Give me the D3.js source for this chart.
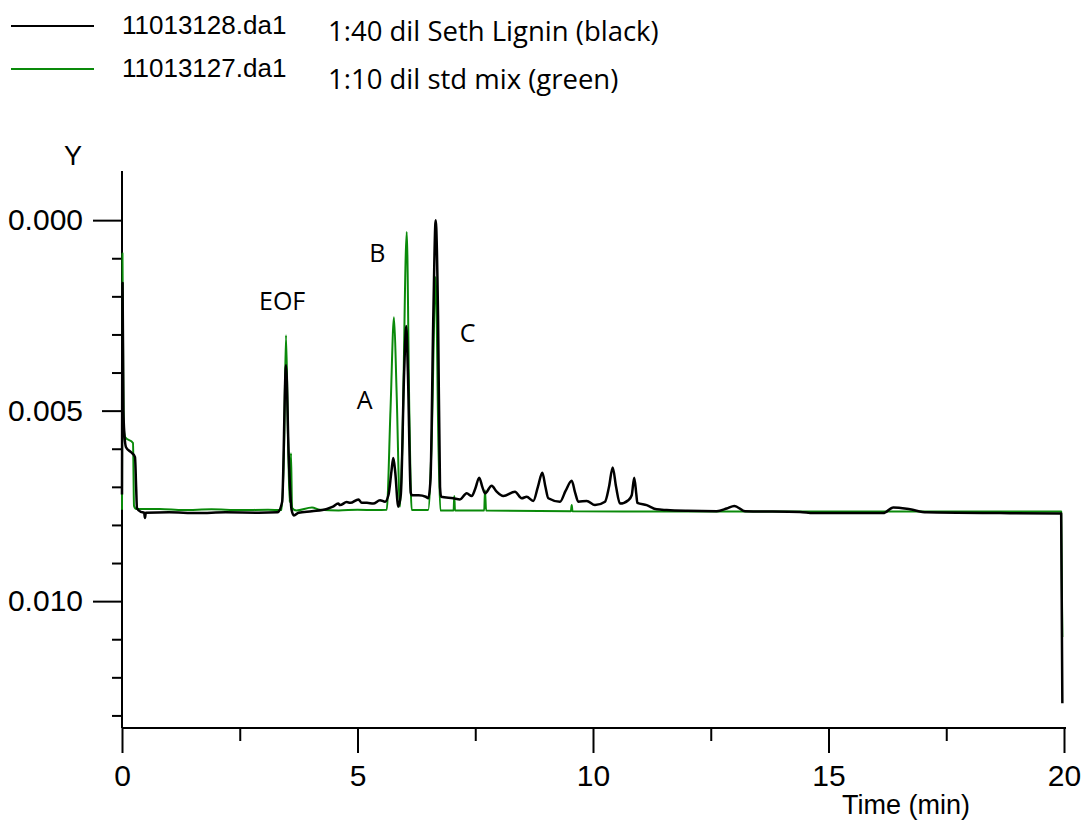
<!DOCTYPE html>
<html>
<head>
<meta charset="utf-8">
<script src="https://cdn.jsdelivr.net/npm/d3@7"></script>
<style>
  html, body { margin: 0; padding: 0; background: #fff; }
  svg { display: block; }
</style>
</head>
<body>
<svg id="chart" width="1081" height="825"></svg>
<script>
// Electropherogram: absorbance (Y, inverted) vs migration time (min)

// Run 11013128.da1 — 1:40 dil Seth Lignin (black)
const blackTime = [
  0.000, 0.012, 0.030, 0.050, 0.085, 0.200, 0.276, 0.300, 0.318, 0.400, 0.470, 0.488, 0.505,
  1.000, 1.600, 2.200, 2.900, 3.300, 3.400, 3.482, 3.540, 3.600, 3.650, 3.750,
  4.030, 4.350, 4.480, 4.590, 4.630, 4.770, 4.850, 5.020, 5.090, 5.200, 5.335, 5.478, 5.584,
  5.660, 5.720, 5.760, 5.800, 5.866, 5.920, 5.990, 6.035, 6.070, 6.130, 6.151,
  6.300, 6.450, 6.503, 6.550, 6.610, 6.660, 6.710, 6.752, 6.775,
  7.034, 7.176, 7.318, 7.425, 7.500, 7.584, 7.650, 7.707, 7.849, 7.950, 8.096,
  8.344, 8.486, 8.592, 8.732, 8.830, 8.924, 8.990, 9.051, 9.299, 9.420, 9.548, 9.620,
  9.688, 9.866, 10.042, 10.255, 10.340, 10.418, 10.490, 10.573, 10.749, 10.822, 10.875,
  10.920, 10.941, 11.140, 11.352, 11.565, 12.000, 12.626, 12.839, 13.000, 13.227,
  14.395, 14.677, 16.163, 16.376, 16.730, 17.085, 18.641, 19.940, 19.965
];
const blackAbs = [
  0.00720, 0.00165, 0.00500, 0.00560, 0.00596, 0.00610, 0.00622, 0.00700, 0.00756, 0.00766, 0.00768, 0.00782, 0.00768,
  0.00767, 0.00769, 0.00767, 0.00768, 0.00767, 0.00740, 0.00381, 0.00620, 0.00760, 0.00775, 0.00768,
  0.00764, 0.00758, 0.00752, 0.00744, 0.00748, 0.00740, 0.00742, 0.00733, 0.00742, 0.00742, 0.00744, 0.00735, 0.00739,
  0.00720, 0.00660, 0.00624, 0.00660, 0.00752, 0.00720, 0.00400, 0.00278, 0.00400, 0.00715, 0.00722,
  0.00722, 0.00726, 0.00730, 0.00680, 0.00250, 0.00000, 0.00250, 0.00700, 0.00726,
  0.00730, 0.00733, 0.00717, 0.00724, 0.00705, 0.00676, 0.00700, 0.00717, 0.00697, 0.00712, 0.00724,
  0.00713, 0.00730, 0.00726, 0.00737, 0.00700, 0.00663, 0.00700, 0.00730, 0.00739, 0.00710, 0.00684, 0.00715,
  0.00739, 0.00737, 0.00748, 0.00739, 0.00700, 0.00649, 0.00700, 0.00744, 0.00735, 0.00722, 0.00676,
  0.00720, 0.00742, 0.00748, 0.00759, 0.00761, 0.00763, 0.00764, 0.00757, 0.00750, 0.00764,
  0.00766, 0.00769, 0.00769, 0.00754, 0.00759, 0.00767, 0.00769, 0.00770, 0.01268
];

// Run 11013127.da1 — 1:10 dil std mix (green)
const greenTime = [
  0.000, 0.010, 0.025, 0.040, 0.070, 0.234, 0.255, 0.300,
  0.800, 1.300, 1.900, 2.500, 3.100, 3.390, 3.440, 3.482, 3.530, 3.560, 3.588, 3.610, 3.700,
  4.034, 4.200, 4.600, 5.000, 5.400, 5.620, 5.700, 5.775, 5.830, 5.902, 5.950, 6.045, 6.100, 6.151,
  6.500, 6.570, 6.660, 6.720, 6.760, 7.040, 7.055, 7.070, 7.690, 7.707, 7.730,
  9.530, 9.548, 9.565, 12.000, 15.000, 18.000, 19.940, 19.965
];
const greenAbs = [
  0.00760, 0.00087, 0.00400, 0.00551, 0.00570, 0.00585, 0.00750, 0.00758,
  0.00758, 0.00761, 0.00759, 0.00761, 0.00760, 0.00761, 0.00600, 0.00302, 0.00600, 0.00740, 0.00612, 0.00755, 0.00762,
  0.00754, 0.00760, 0.00762, 0.00760, 0.00761, 0.00760, 0.00500, 0.00255, 0.00450, 0.00752, 0.00600, 0.00031, 0.00500, 0.00761,
  0.00761, 0.00600, 0.00149, 0.00600, 0.00762, 0.00762, 0.00724, 0.00762, 0.00762, 0.00709, 0.00762,
  0.00764, 0.00748, 0.00764, 0.00765, 0.00765, 0.00765, 0.00765, 0.01094
];

const yMajorTicks = [0.000, 0.005, 0.010];
const yMinorTicks = [0.001, 0.002, 0.003, 0.004, 0.006, 0.007, 0.008, 0.009, 0.011, 0.012, 0.013];
const xMajorTicks = [0, 5, 10, 15, 20];
const xMinorTicks = [2.5, 7.5, 12.5, 17.5];

const legendFiles = ["11013128.da1", "11013127.da1"];
const legendNotes = ["1:40 dil Seth Lignin (black)", "1:10 dil std mix (green)"];
const peakLabels = [
  { name: "EOF", t: 3.40, v: 0.00235 },
  { name: "A",   t: 5.15, v: 0.00496 },
  { name: "B",   t: 5.42, v: 0.00110 },
  { name: "C",   t: 7.34, v: 0.00320 }
];

const BLACK = "#000000";
const GREEN = "#0a8a0a";

const svg = d3.select("#chart");
svg.append("rect").attr("width", 1081).attr("height", 825).attr("fill", "#fff");

const x = d3.scaleLinear().domain([0, 20]).range([122, 1064]);
const y = d3.scaleLinear().domain([-0.00129, 0.01333]).range([171, 728]);

const axisFont = "'Liberation Sans', Arial, sans-serif";
const noteFont = "'Open Sans', 'Noto Sans', sans-serif";

// Y axis (values increase downward)
const yMinor = svg.append("g").attr("transform", "translate(122,0)")
  .call(d3.axisLeft(y).tickValues(yMinorTicks).tickSize(10).tickFormat(""));
const yMajor = svg.append("g").attr("transform", "translate(122,0)")
  .call(d3.axisLeft(y).tickValues(yMajorTicks).tickSize(29).tickPadding(10)
    .tickFormat(d3.format(".3f")));
yMajor.selectAll(".tick").filter(d => d === 0.005).select("line").attr("x2", -20);
[yMinor, yMajor].forEach(g => {
  g.select(".domain").remove();
  g.selectAll("line").attr("stroke", "#000").attr("stroke-width", 2);
});
yMajor.selectAll("text").attr("font-family", axisFont).attr("font-size", 30).attr("fill", "#000");
svg.append("line").attr("x1", 122).attr("x2", 122).attr("y1", 171).attr("y2", 728)
  .attr("stroke", "#000").attr("stroke-width", 2);

// X axis
const xMinor = svg.append("g").attr("transform", "translate(0,728)")
  .call(d3.axisBottom(x).tickValues(xMinorTicks).tickSize(13).tickFormat(""));
const xMajor = svg.append("g").attr("transform", "translate(0,728)")
  .call(d3.axisBottom(x).tickValues(xMajorTicks).tickSize(25).tickPadding(12)
    .tickFormat(d3.format("d")));
[xMinor, xMajor].forEach(g => {
  g.select(".domain").remove();
  g.selectAll("line").attr("stroke", "#000").attr("stroke-width", 2);
});
xMajor.selectAll("text").attr("font-family", axisFont).attr("font-size", 30).attr("fill", "#000");
svg.append("line").attr("x1", 122).attr("x2", 1066).attr("y1", 728).attr("y2", 728)
  .attr("stroke", "#000").attr("stroke-width", 2);

// Axis titles
svg.append("text").attr("x", 73).attr("y", 165).attr("text-anchor", "middle")
  .attr("font-family", axisFont).attr("font-size", 27).text("Y");
svg.append("text").attr("x", 906).attr("y", 814).attr("text-anchor", "middle")
  .attr("font-family", axisFont).attr("font-size", 27).text("Time (min)");

// Traces
const line = d3.line()
  .x(d => x(d[0]))
  .y(d => y(d[1]))
  .curve(d3.curveMonotoneX);

const greenData = greenTime.map((t, i) => [t, greenAbs[i]]);
const blackData = blackTime.map((t, i) => [t, blackAbs[i]]);

svg.append("path").datum(greenData).attr("d", line)
  .attr("fill", "none").attr("stroke", GREEN).attr("stroke-width", 2).attr("stroke-linejoin", "round");
svg.append("path").datum(blackData).attr("d", line)
  .attr("fill", "none").attr("stroke", BLACK).attr("stroke-width", 2.5).attr("stroke-linejoin", "round");

// Peak annotations
svg.selectAll("text.peak").data(peakLabels).enter().append("text")
  .attr("class", "peak")
  .attr("x", d => x(d.t)).attr("y", d => y(d.v))
  .attr("text-anchor", "middle")
  .attr("font-family", noteFont).attr("font-size", 25).attr("fill", "#000")
  .text(d => d.name);

// Legend
const legendColors = [BLACK, GREEN];
const legendRowY = [26, 69];
legendFiles.forEach((f, i) => {
  svg.append("line").attr("x1", 11).attr("x2", 94)
    .attr("y1", legendRowY[i]).attr("y2", legendRowY[i])
    .attr("stroke", legendColors[i]).attr("stroke-width", 2);
  svg.append("text").attr("x", 122).attr("y", legendRowY[i] + 8)
    .attr("font-family", axisFont).attr("font-size", 26).text(f);
  svg.append("text").attr("x", 328).attr("y", legendRowY[i] + 15 + i * 5)
    .attr("font-family", noteFont).attr("font-size", 27.5).text(legendNotes[i]);
});
</script>
</body>
</html>
